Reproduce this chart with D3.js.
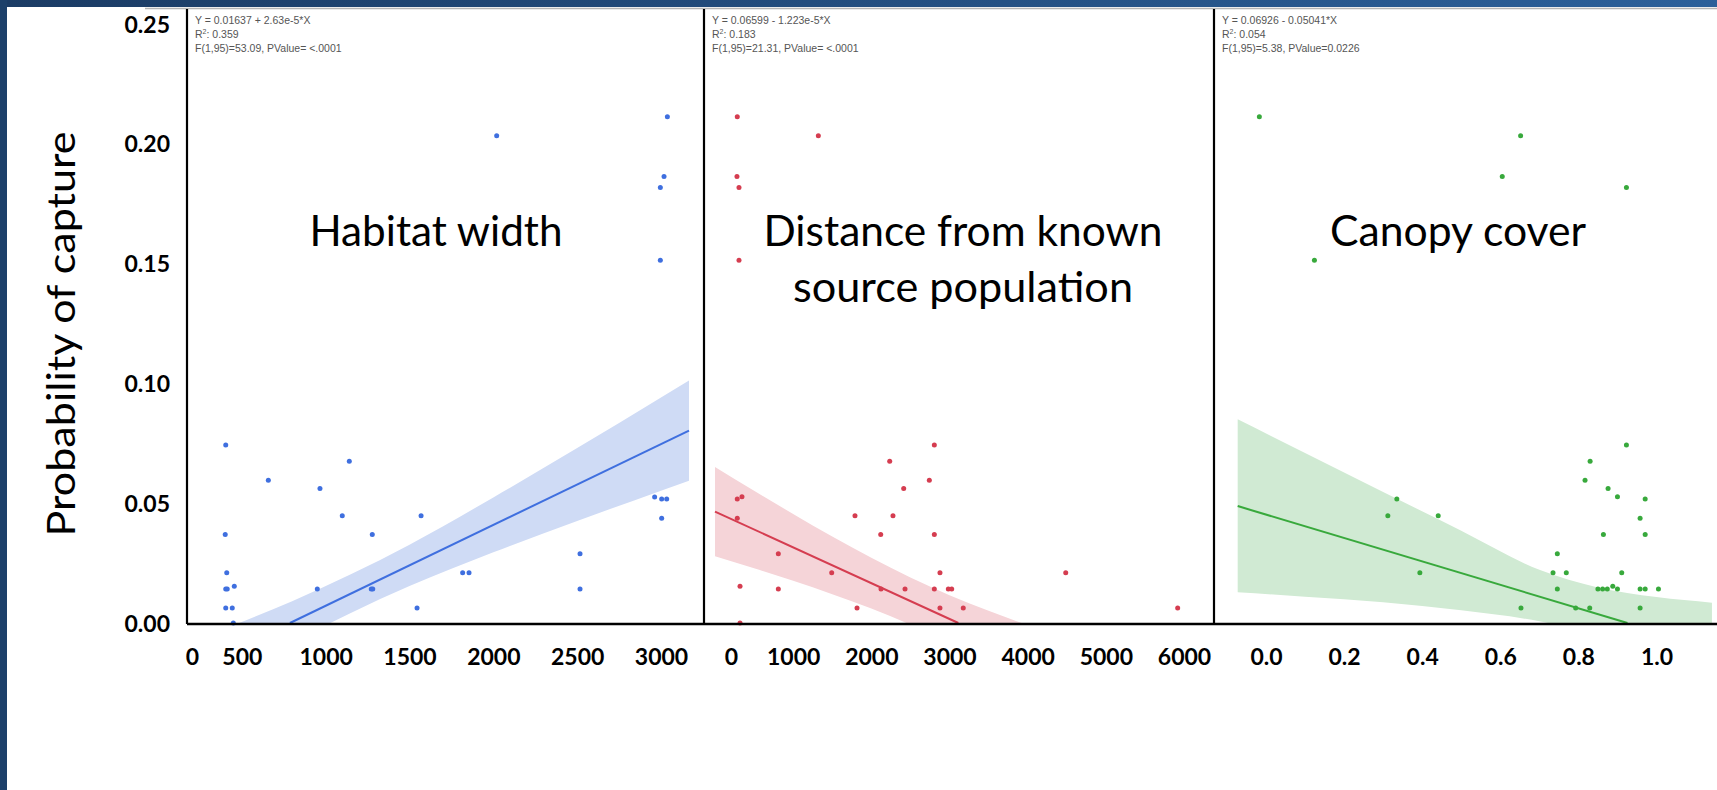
<!DOCTYPE html>
<html>
<head>
<meta charset="utf-8">
<script src="https://cdn.jsdelivr.net/npm/d3@7"></script>
<style>
  html, body { margin: 0; padding: 0; background: #fff; overflow: hidden; }
  svg { display: block; }
</style>
</head>
<body>
<svg id="chart" width="1717" height="790"></svg>
<script>
// ---------------- DATA ----------------
const yTicks = [0, 0.05, 0.10, 0.15, 0.20, 0.25];
const yTitle = "Probability of capture";

// Panel 1: Habitat width
const widthTicks = [0, 500, 1000, 1500, 2000, 2500, 3000];
const widthX = [404, 658, 966, 1141, 1099, 1569, 401, 1278, 410, 404, 413, 455, 950, 1272, 1281, 404, 443, 1545, 449, 1817, 1855, 2517, 2517, 2962, 3004, 3034, 3004, 3038, 3018, 2996, 2996, 2020];
const widthY = [0.0743, 0.0596, 0.0561, 0.0675, 0.0448, 0.0448, 0.0369, 0.0369, 0.0210, 0.0142, 0.0142, 0.0153, 0.0142, 0.0142, 0.0142, 0.0063, 0.0063, 0.0063, 0, 0.0210, 0.0210, 0.0289, 0.0142, 0.0526, 0.0518, 0.0518, 0.0437, 0.2113, 0.1864, 0.1818, 0.1514, 0.2034];
const widthFitX = [787, 3167];
const widthFitY = [0, 0.0803];
const widthBandX = [450, 800, 1150, 1500, 2000, 2500, 3000, 3167];
const widthBandLo = [-0.0218, -0.0082, 0.0042, 0.0154, 0.0295, 0.0426, 0.0552, 0.0594];
const widthBandHi = [-0.0009, 0.0091, 0.0203, 0.0327, 0.0524, 0.0730, 0.0941, 0.1012];
const widthStats = ["Y = 0.01637 + 2.63e-5*X", "0.359", "F(1,95)=53.09, PValue= <.0001"];
const widthTitle = ["Habitat width"];

// Panel 2: Distance from known source population
const distTicks = [0, 1000, 2000, 3000, 4000, 5000, 6000];
const distX = [285, 345, 285, 320, 320, 810, 810, 1493, 1791, 1817, 2120, 2124, 2235, 2277, 2414, 2431, 2742, 2806, 2806, 2806, 2878, 2878, 2985, 3028, 3176, 4487, 5919, 285, 1322, 281, 307, 307];
const distY = [0.0518, 0.0527, 0.0437, 0.0153, 0, 0.0289, 0.0142, 0.0210, 0.0448, 0.0063, 0.0369, 0.0142, 0.0675, 0.0448, 0.0561, 0.0142, 0.0596, 0.0743, 0.0369, 0.0142, 0.0210, 0.0063, 0.0142, 0.0142, 0.0063, 0.0210, 0.0063, 0.2113, 0.2034, 0.1864, 0.1818, 0.1514];
const distFitX = [0, 3113];
const distFitY = [0.0465, 0];
const distBandX = [0, 500, 1000, 1500, 2000, 2500, 3000, 3500, 4000];
const distBandLo = [0.0279, 0.0228, 0.0176, 0.0120, 0.0060, -0.0007, -0.0083, -0.0167, -0.0257];
const distBandHi = [0.0651, 0.0552, 0.0455, 0.0361, 0.0272, 0.0190, 0.0116, 0.0051, -0.0009];
const distStats = ["Y = 0.06599 - 1.223e-5*X", "0.183", "F(1,95)=21.31, PValue= <.0001"];
const distTitle = ["Distance from known", "source population"];

// Panel 3: Canopy cover
const canopyTicks = [0, 0.2, 0.4, 0.6, 0.8, 1.0];
const canopyX = [0.335, 0.312, 0.441, 0.394, 0.653, 0.746, 0.735, 0.769, 0.746, 0.793, 0.829, 0.830, 0.817, 0.923, 0.876, 0.900, 0.864, 0.850, 0.862, 0.874, 0.888, 0.900, 0.911, 0.971, 0.958, 0.971, 0.958, 0.971, 1.005, 0.958, -0.017, 0.652, 0.605, 0.923, 0.124];
const canopyY = [0.0518, 0.0448, 0.0448, 0.0210, 0.0063, 0.0289, 0.0210, 0.0210, 0.0142, 0.0063, 0.0063, 0.0675, 0.0596, 0.0743, 0.0561, 0.0527, 0.0369, 0.0142, 0.0142, 0.0142, 0.0153, 0.0142, 0.0210, 0.0518, 0.0437, 0.0369, 0.0142, 0.0142, 0.0142, 0.0063, 0.2113, 0.2034, 0.1864, 0.1818, 0.1514];
const canopyFitX = [-0.0725, 0.9256];
const canopyFitY = [0.0488, 0];
const canopyBandX = [-0.0725, 0.1, 0.3, 0.5, 0.7, 0.85, 1.0, 1.142];
const canopyBandLo = [0.0128, 0.0110, 0.0087, 0.0053, 0.0007, -0.0050, -0.0120, -0.0200];
const canopyBandHi = [0.0850, 0.0710, 0.0547, 0.0385, 0.0222, 0.0148, 0.0108, 0.0085];
const canopyStats = ["Y = 0.06926 - 0.05041*X", "0.054", "F(1,95)=5.38, PValue=0.0226"];
const canopyTitle = ["Canopy cover"];

// ---------------- LAYOUT / STYLE ----------------
const W = 1717, H = 790;
const plotTop = 9, axisY = 624;
const yScale = d3.scaleLinear().domain([0, 0.25]).range([623, 24]);

const panels = [
  { left: 187, right: 704, domain: [0, 3000], range: [158, 661], ticks: widthTicks, fmt: d3.format("d"),
    xs: widthX, ys: widthY, fitX: widthFitX, fitY: widthFitY, bX: widthBandX, bLo: widthBandLo, bHi: widthBandHi,
    stats: widthStats, title: widthTitle, titleX: 436, titleLen: [253], zeroNudge: 34,
    color: "#3f6fdf", band: "#cfdbf5" },
  { left: 704, right: 1214, domain: [0, 6000], range: [715, 1184], ticks: distTicks, fmt: d3.format("d"),
    xs: distX, ys: distY, fitX: distFitX, fitY: distFitY, bX: distBandX, bLo: distBandLo, bHi: distBandHi,
    stats: distStats, title: distTitle, titleX: 963, titleLen: [399, 340], zeroNudge: 16,
    color: "#d53d50", band: "#f5d4d8" },
  { left: 1214, right: 1717, domain: [0, 1], range: [1266, 1656.5], ticks: canopyTicks, fmt: d3.format(".1f"),
    xs: canopyX, ys: canopyY, fitX: canopyFitX, fitY: canopyFitY, bX: canopyBandX, bLo: canopyBandLo, bHi: canopyBandHi,
    stats: canopyStats, title: canopyTitle, titleX: 1458, titleLen: [256], zeroNudge: 0,
    color: "#38a93c", band: "#d0ead3" }
];

const svg = d3.select("#chart");
const defs = svg.append("defs");

svg.append("rect").attr("width", W).attr("height", H).attr("fill", "#ffffff");

// top bar gradient
const grad = defs.append("linearGradient").attr("id", "topbar").attr("x1", "0").attr("x2", "1").attr("y1", "0").attr("y2", "0");
grad.append("stop").attr("offset", "0").attr("stop-color", "#1b3c65");
grad.append("stop").attr("offset", "1").attr("stop-color", "#2c609a");
svg.append("rect").attr("x", 0).attr("y", 0).attr("width", W).attr("height", 7).attr("fill", "url(#topbar)");
svg.append("line").attr("x1", 145).attr("x2", W).attr("y1", 8.5).attr("y2", 8.5)
  .attr("stroke", "#b5b5b5").attr("stroke-width", 1.5);
svg.append("rect").attr("x", 0).attr("y", 0).attr("width", 7).attr("height", H).attr("fill", "#1c406a");

panels.forEach((p, i) => {
  const x = d3.scaleLinear().domain(p.domain).range(p.range);
  const clipId = "clip" + i;
  defs.append("clipPath").attr("id", clipId).append("rect")
    .attr("x", p.left).attr("y", plotTop).attr("width", p.right - p.left).attr("height", axisY - plotTop);

  const g = svg.append("g");
  const clipped = g.append("g").attr("clip-path", `url(#${clipId})`);

  // confidence band
  const bandData = p.bX.map((v, k) => ({ x: v, lo: p.bLo[k], hi: p.bHi[k] }));
  clipped.append("path").datum(bandData)
    .attr("fill", p.band)
    .attr("d", d3.area().x(d => x(d.x)).y0(d => yScale(d.lo)).y1(d => yScale(d.hi)).curve(d3.curveMonotoneX));

  // fit line
  const fitData = p.fitX.map((v, k) => ({ x: v, y: p.fitY[k] }));
  clipped.append("path").datum(fitData)
    .attr("fill", "none").attr("stroke", p.color).attr("stroke-width", 2)
    .attr("d", d3.line().x(d => x(d.x)).y(d => yScale(d.y)));

  // points
  g.selectAll("circle.pt").data(p.xs.map((v, k) => ({ x: v, y: p.ys[k] })))
    .enter().append("circle").attr("class", "pt")
    .attr("cx", d => x(d.x)).attr("cy", d => yScale(d.y)).attr("r", 2.5)
    .attr("fill", p.color);

  // left border of panel
  g.append("line").attr("x1", p.left).attr("x2", p.left).attr("y1", plotTop).attr("y2", axisY)
    .attr("stroke", "#000").attr("stroke-width", 2.2);

  // stats text
  const st = g.append("g").attr("font-family", "'Liberation Sans', Arial, sans-serif")
    .attr("font-size", 10.5).attr("fill", "#555");
  const sx = p.left + 8;
  st.append("text").attr("x", sx).attr("y", 24).text(p.stats[0]);
  const r2 = st.append("text").attr("x", sx).attr("y", 38);
  r2.append("tspan").text("R");
  r2.append("tspan").attr("font-size", 7).attr("dy", -4).text("2");
  r2.append("tspan").attr("dy", 4).text(": " + p.stats[1]);
  st.append("text").attr("x", sx).attr("y", 52).text(p.stats[2]);

  // title
  p.title.forEach((t, k) => {
    g.append("text").attr("x", p.titleX).attr("y", 246 + k * 56)
      .attr("text-anchor", "middle")
      .attr("font-family", "Lato, 'Open Sans', sans-serif").attr("font-size", 43)
      .attr("fill", "#000")
      .attr("textLength", p.titleLen[k]).attr("lengthAdjust", "spacingAndGlyphs")
      .text(t);
  });

  // x axis labels
  const ax = svg.append("g").attr("transform", `translate(0,665)`)
    .call(d3.axisBottom(x).tickValues(p.ticks).tickFormat(p.fmt).tickSize(0));
  ax.select(".domain").remove();
  ax.selectAll("text")
    .attr("y", 0).attr("dy", 0)
    .attr("font-family", "Lato, 'Open Sans', sans-serif").attr("font-weight", "bold")
    .attr("font-size", 23).attr("fill", "#000")
    .attr("dx", d => (d === 0 ? p.zeroNudge : 0));
});

// axis baseline
svg.append("line").attr("x1", 187).attr("x2", W).attr("y1", axisY).attr("y2", axisY)
  .attr("stroke", "#000").attr("stroke-width", 2.5);

// y axis labels
const yax = svg.append("g").attr("transform", "translate(170,0)")
  .call(d3.axisLeft(yScale).tickValues(yTicks).tickFormat(d3.format(".2f")).tickSize(0));
yax.select(".domain").remove();
yax.selectAll("text")
  .attr("x", 0).attr("dy", "0.35em").attr("text-anchor", "end")
  .attr("font-family", "Lato, 'Open Sans', sans-serif").attr("font-weight", "bold")
  .attr("font-size", 23).attr("fill", "#000");

// y title
svg.append("text")
  .attr("transform", "translate(75,334) rotate(-90)")
  .attr("text-anchor", "middle")
  .attr("font-family", "Lato, 'Open Sans', sans-serif").attr("font-size", 38).attr("fill", "#000")
  .attr("textLength", 405).attr("lengthAdjust", "spacingAndGlyphs")
  .text(yTitle);
</script>
</body>
</html>
